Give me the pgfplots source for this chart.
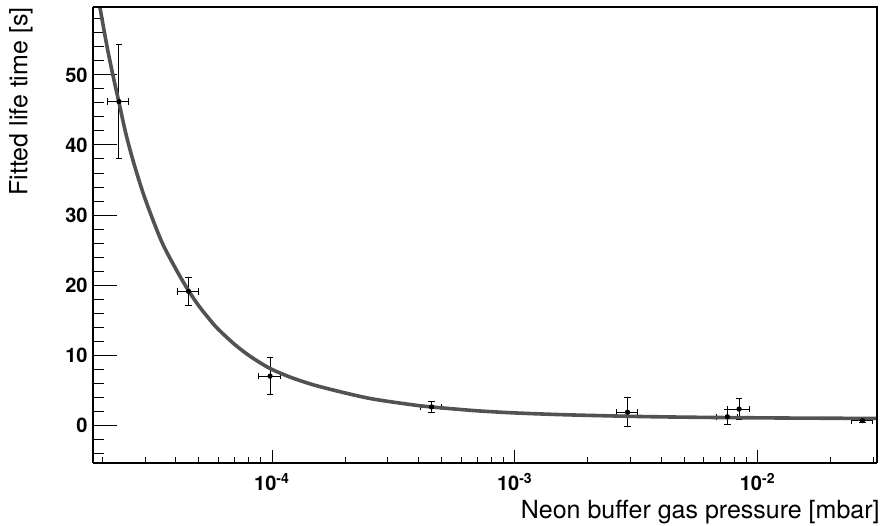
\documentclass[border=0pt]{standalone}
\usepackage{pgfplots}
\pgfplotsset{compat=1.18}
\usepackage{fontspec}
\setmainfont{TeX Gyre Heros}
\begin{document}
\begin{tikzpicture}
\begin{axis}[
   scale only axis,
   width=392pt, height=228pt,
   xmode=log,
   xmin=1.83e-5, xmax=3.1e-2,
   ymin=-5.4, ymax=59.7,
   axis x line*=bottom, axis y line*=left,
   axis line style={line width=0.9pt, -},
   tick align=inside,
   every tick/.style={black, line width=0.5pt},
   xtick style={/pgfplots/major tick length=6.3pt, /pgfplots/minor tick length=3pt},
   ytick style={draw=none},
   xtick={1e-4,1e-3,1e-2},
   xticklabels={10\textsuperscript{-4},10\textsuperscript{-3},10\textsuperscript{-2}},
   minor xtick={2e-5,3e-5,4e-5,5e-5,6e-5,7e-5,8e-5,9e-5,
                2e-4,3e-4,4e-4,5e-4,6e-4,7e-4,8e-4,9e-4,
                2e-3,3e-3,4e-3,5e-3,6e-3,7e-3,8e-3,9e-3,
                2e-2,3e-2},
   ytick={0,10,20,30,40,50},
   /pgf/number format/assume math mode=true,
   ticklabel style={font=\fontsize{10}{12}\selectfont\bfseries},
   yticklabel style={inner sep=0pt, xshift=-2.5pt},
   xticklabel style={inner sep=0pt, yshift=-5pt},
   label style={font=\fontsize{12.5}{15}\selectfont},
   xlabel={Neon buffer gas pressure [mbar]},
   xlabel style={at={(rel axis cs:1,0)}, anchor=north east, inner sep=0pt, yshift=-18.5pt, xshift=1.5pt},
   ylabel={Fitted life time [s]},
   ylabel style={at={(rel axis cs:-0.0765,1)}, anchor=south east, inner sep=0pt},
 ]
   % y ticks drawn by hand: long (12pt) at the labels, short (5.5pt) in between
   \pgfplotsinvokeforeach{0,10,...,50}{
      \draw[line width=0.5pt] (axis cs:1.83e-5,#1) -- (axis cs:2.297e-5,#1);
   }
   \pgfplotsinvokeforeach{-4,-2,...,58}{
      \draw[line width=0.5pt] (axis cs:1.83e-5,#1) -- (axis cs:2.031e-5,#1);
   }
   % measured life times, x errors are 10 % of the pressure
   \addplot[only marks, mark=*, mark size=1.1pt, black,
      error bars/.cd, x dir=both, x explicit relative, y dir=both, y explicit,
      error bar style={line width=0.5pt, black},
      error mark options={rotate=90, mark size=1.6pt, line width=0.5pt, black}]
   coordinates {
      (2.34e-5,46.2) +- (0.1,8.1)
      (4.53e-5,19.1) +- (0.1,2.0)
      (9.81e-5,7.0)  +- (0.1,2.6)
      (4.54e-4,2.6)  +- (0.1,0.8)
      (2.91e-3,1.85) +- (0.1,2.1)
      (7.5e-3,1.2)   +- (0.1,1.1)
      (8.38e-3,2.3)  +- (0.1,1.55)
      (2.70e-2,0.65) +- (0.1,0.3)
   };
   % fit curve
   \addplot[no marks, smooth, line width=1.8pt, color=black!68] coordinates {
      (1.80e-5,67.4) (1.90e-5,62.1) (2.0e-5,57.7) (2.1e-5,53.7) (2.2e-5,50.3)
      (2.34e-5,46.1) (2.5e-5,41.6) (2.7e-5,37.3) (3.0e-5,32.3) (3.5e-5,26.3)
      (4.0e-5,22.4) (4.5e-5,19.35) (5.0e-5,17.0) (5.56e-5,15.0) (6.0e-5,13.7)
      (7.0e-5,11.55) (8.0e-5,9.99) (9.0e-5,8.84) (1.0e-4,7.95) (1.2e-4,6.8)
      (1.5e-4,5.7) (2.0e-4,4.6) (2.5e-4,3.85) (3.0e-4,3.4) (4.0e-4,2.8)
      (5.0e-4,2.47) (7.0e-4,2.05) (1.0e-3,1.75) (1.5e-3,1.52) (2.24e-3,1.36)
      (3.5e-3,1.22) (5.77e-3,1.12) (1.0e-2,1.05) (1.49e-2,1.01) (3.2e-2,0.96)
   };
   \coordinate (sw) at (rel axis cs:0,0);
   \coordinate (ne) at (rel axis cs:1,1);
\end{axis}
% top and right edges of the frame
\draw[line width=0.9pt] (sw |- ne) -- (ne) -- (ne |- sw);
\pgfresetboundingbox
\path ([shift={(-46.5pt,-31pt)}]sw) rectangle ([shift={(4.5pt,3.5pt)}]ne);
\end{tikzpicture}
\end{document}
